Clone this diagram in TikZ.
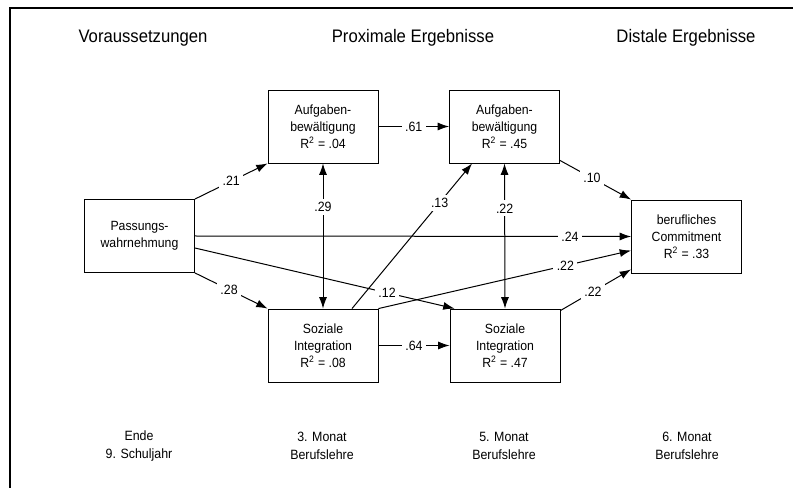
\documentclass[tikz,border=0pt]{standalone}
\usepackage{fontspec}
\setmainfont{Liberation Sans}[FakeStretch=0.92]
\usetikzlibrary{arrows.meta,calc}

\begin{document}
\begin{tikzpicture}[x=0.75pt,y=-0.75pt,>={Latex[length=8.5pt,width=6pt]},
  var/.style={draw,line width=0.65pt,minimum width=82.5pt,minimum height=54.75pt,
    align=center,inner sep=2pt,font=\fontsize{10}{12.75}\selectfont},
  coef/.style={fill=white,inner sep=2.5pt,font=\fontsize{10.1}{11}\selectfont},
  head/.style={font=\fontsize{13.6}{15}\selectfont},
  wave/.style={align=center,font=\fontsize{10.1}{13.5}\selectfont},
  eff/.style={->,line width=0.75pt},
  cor/.style={<->,line width=0.75pt}]
  \useasboundingbox (0,0) rectangle (793,488);
  \draw[line width=1.6pt] (10,488) -- (10,8) -- (793,8);
  % column heads
  \node[head] (hvor) at (143,38) {Voraussetzungen};
  \node[head] (hprox) at (413,38) {Proximale Ergebnisse};
  \node[head] (hdist) at (686,38) {Distale Ergebnisse};
  % variables
  \node[var] (pw) at (139.5,236) {Passungs-\\wahrnehmung};
  \node[var] (af1) at (323,126.5) {Aufgaben-\\bewältigung\\R\textsuperscript{2} = .04};
  \node[var] (af2) at (504.5,126.5) {Aufgaben-\\bewältigung\\R\textsuperscript{2} = .45};
  \node[var] (si1) at (323,345.5) {Soziale\\Integration\\R\textsuperscript{2} = .08};
  \node[var] (si2) at (505,345.5) {Soziale\\Integration\\R\textsuperscript{2} = .47};
  \node[var] (bc) at (686.5,236.5) {berufliches\\Commitment\\R\textsuperscript{2} = .33};
  % paths
  \draw[eff] (pw.north east) -- node[coef] {.21} (af1.south west);
  \draw[eff] (pw.south east) -- node[coef,pos=0.47] {.28} (si1.north west);
  \draw[eff] (pw.east) -- node[coef,pos=0.86] {.24} (bc.west);
  \draw[eff] ($(pw.east)+(0,12)$) -- node[coef,pos=0.74] {.12} ($(si2.north west)+(5,0)$);
  \draw[eff] (af1.east) -- node[coef] {.61} (af2.west);
  \draw[eff] (si1.east) -- node[coef] {.64} (si2.west);
  \draw[cor] (af1.south) -- node[coef,pos=0.3] {.29} (si1.north);
  \draw[cor] (af2.south) -- node[coef,pos=0.31] {.22} (si2.north);
  \draw[eff] ($(si1.north)+(29,0)$) -- node[coef,pos=0.73] {.13} ($(af2.south west)+(23,0)$);
  \draw[eff] (si1.north east) -- node[coef,pos=0.74] {.22} ($(bc.west)+(0,14)$);
  \draw[eff] ($(af2.south east)+(0,-3)$) -- node[coef,pos=0.45] {.10} (bc.north west);
  \draw[eff] ($(si2.north east)+(0,2)$) -- node[coef,pos=0.46] {.22} ($(bc.south west)+(0,-4)$);
  % waves
  \node[wave] (w1) at (139,446) {Ende\\9. Schuljahr};
  \node[wave] (w2) at (322,446) {3. Monat\\Berufslehre};
  \node[wave] (w3) at (504,446) {5. Monat\\Berufslehre};
  \node[wave] (w4) at (687,446) {6. Monat\\Berufslehre};
\end{tikzpicture}
\end{document}
